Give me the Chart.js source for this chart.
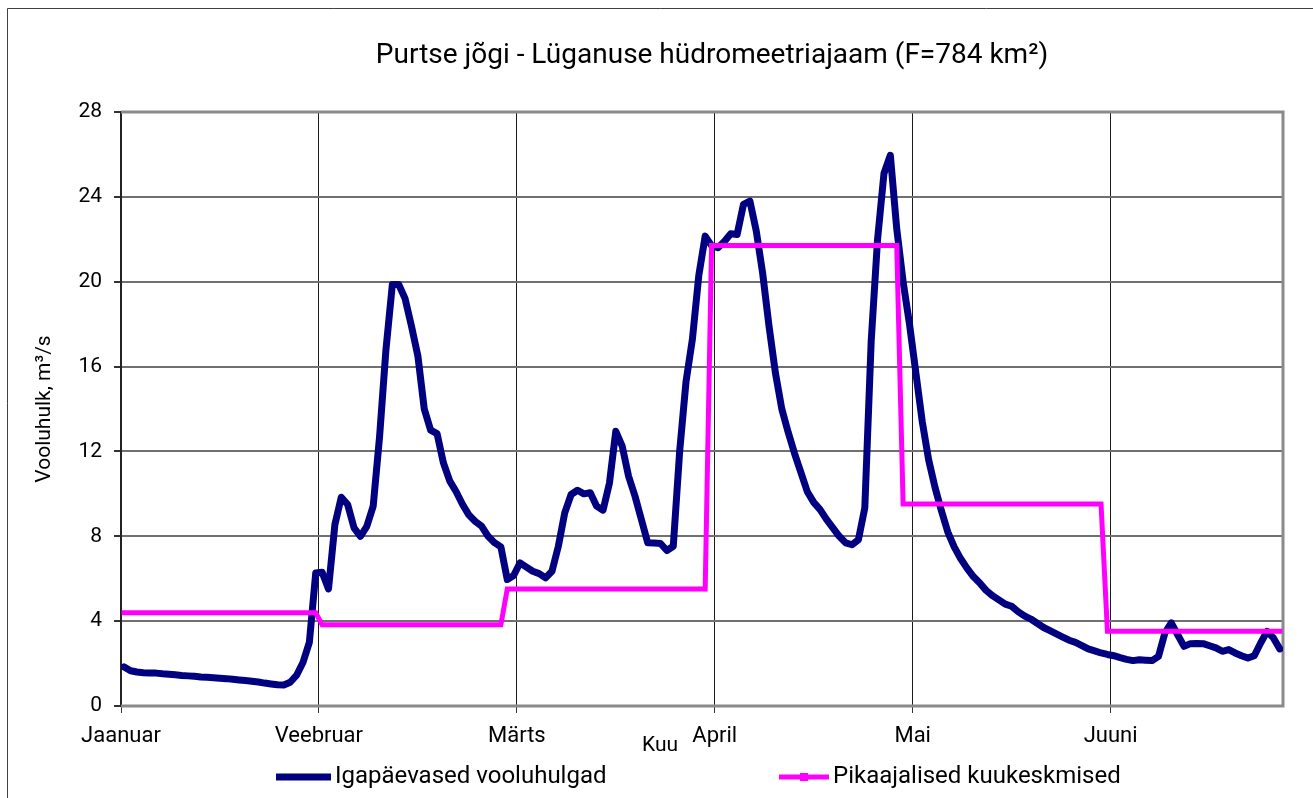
<!DOCTYPE html>
<html lang="et">
<head>
<meta charset="UTF-8">
<title>Purtse jõgi - Lüganuse hüdromeetriajaam</title>
<script src="https://cdn.jsdelivr.net/npm/chart.js"></script>
<style>
  body { margin: 0; background: #fff; }
  #wrap { position: relative; width: 1313px; height: 798px; }
</style>
</head>
<body>
<div id="wrap"><canvas id="flowChart" width="1313" height="798"></canvas></div>
<script>
// month labels, gridline every 31 days
const monthNames = ['Jaanuar', 'Veebruar', 'Märts', 'April', 'Mai', 'Juuni'];
const monthTicks = [0, 31, 62, 93, 124, 155];

// daily flow, m3/s
const flowJan = [1.84, 1.66, 1.6, 1.57, 1.56, 1.55, 1.52, 1.5, 1.47, 1.44,
  1.42, 1.4, 1.37, 1.35, 1.33, 1.31, 1.29, 1.26, 1.23, 1.2,
  1.17, 1.13, 1.08, 1.04, 1.0, 0.99, 1.12, 1.45, 2.05, 3.0, 6.27];
const flowFeb = [6.3, 5.52, 8.55, 9.84, 9.5, 8.4, 8.0, 8.47, 9.42, 12.7,
  16.8, 19.87, 19.87, 19.2, 17.9, 16.5, 14.0, 13.0, 12.84, 11.46,
  10.6, 10.1, 9.5, 9.0, 8.7, 8.47, 8.0, 7.7, 7.5];
const flowMar = [5.96, 6.15, 6.75, 6.55, 6.35, 6.24, 6.04, 6.35, 7.53, 9.1,
  9.97, 10.17, 10.0, 10.05, 9.42, 9.23, 10.5, 12.95, 12.25, 10.83,
  9.9, 8.8, 7.69, 7.68, 7.66, 7.33, 7.53, 12.0, 15.3, 17.3, 20.3, 22.15];
const flowApr = [21.7, 21.6, 21.9, 22.26, 22.23, 23.65, 23.8, 22.39, 20.4, 17.9,
  15.7, 14.0, 12.9, 11.9, 11.0, 10.1, 9.6, 9.26, 8.8, 8.4,
  8.0, 7.69, 7.6, 7.84, 9.34, 17.2, 22.0, 25.1, 25.96, 22.5];
const flowMay = [20.0, 18.0, 15.7, 13.4, 11.6, 10.3, 9.2, 8.2, 7.5, 6.95,
  6.5, 6.1, 5.8, 5.45, 5.2, 5.0, 4.8, 4.7, 4.45, 4.25,
  4.1, 3.9, 3.7, 3.55, 3.4, 3.25, 3.1, 3.0, 2.85, 2.69, 2.6, 2.5];
const flowJun = [2.43, 2.37, 2.28, 2.2, 2.14, 2.18, 2.16, 2.14, 2.34, 3.44,
  3.92, 3.36, 2.81, 2.94, 2.95, 2.94, 2.84, 2.74, 2.58, 2.66,
  2.5, 2.37, 2.26, 2.37, 2.97, 3.52, 3.21, 2.69];
const dailyFlow = [...flowJan, ...flowFeb, ...flowMar, ...flowApr, ...flowMay, ...flowJun];

// long-term monthly means and the day span each one covers
const monthMeans = [4.39, 3.83, 5.52, 21.71, 9.52, 3.52];
const meanFirstDay = [0, 31, 60, 92, 122, 154];
const meanLastDay = [30, 59, 91, 121, 153, 181];

const dailyPoints = dailyFlow.map((v, i) => ({ x: i + 0.5, y: v }));
const meanPoints = [];
monthMeans.forEach((m, k) => {
  meanPoints.push({ x: meanFirstDay[k] + 0.5, y: m });
  meanPoints.push({ x: meanLastDay[k] + 0.5, y: m });
});

const FONT = 'Roboto, "Liberation Sans", Arial, sans-serif';
Chart.defaults.font.family = FONT;
Chart.defaults.color = '#000';

const decor = {
  id: 'decor',
  beforeDraw(chart) {
    const ctx = chart.ctx;
    ctx.save();
    ctx.strokeStyle = '#404040';
    ctx.lineWidth = 1;
    ctx.beginPath();
    ctx.moveTo(7.5, chart.height);
    ctx.lineTo(7.5, 8.5);
    ctx.lineTo(chart.width, 8.5);
    ctx.stroke();
    ctx.restore();
  },
  beforeDatasetsDraw(chart) {
    const { ctx, chartArea: a } = chart;
    ctx.save();
    ctx.strokeStyle = '#8a8a8a';
    ctx.lineWidth = 3;
    ctx.beginPath();
    ctx.moveTo(a.left, a.top);
    ctx.lineTo(a.right, a.top);
    ctx.lineTo(a.right, a.bottom);
    ctx.lineTo(a.left, a.bottom);
    ctx.stroke();
    ctx.restore();
  },
  afterDraw(chart) {
    const { ctx, chartArea: a } = chart;
    ctx.save();
    ctx.fillStyle = '#000';
    ctx.textBaseline = 'middle';

    // title
    ctx.font = '28px ' + FONT;
    ctx.textAlign = 'center';
    ctx.fillText('Purtse jõgi - Lüganuse hüdromeetriajaam (F=784 km²)', 712, 56);

    // x axis title
    ctx.font = '21px ' + FONT;
    ctx.fillText('Kuu', 660, a.bottom + 40);

    // legend
    const ly = a.bottom + 71;
    ctx.textAlign = 'left';
    ctx.font = '24px ' + FONT;
    const items = [
      { ds: chart.data.datasets[1], x0: 276, x1: 331 },
      { ds: chart.data.datasets[0], x0: 779, x1: 829, marker: true }
    ];
    items.forEach(it => {
      ctx.strokeStyle = it.ds.borderColor;
      ctx.lineWidth = it.ds.borderWidth;
      ctx.lineCap = 'butt';
      ctx.beginPath();
      ctx.moveTo(it.x0, ly);
      ctx.lineTo(it.x1, ly);
      ctx.stroke();
      if (it.marker) {
        ctx.fillStyle = it.ds.borderColor;
        ctx.fillRect((it.x0 + it.x1) / 2 - 4, ly - 4, 8, 8);
        ctx.fillStyle = '#000';
      }
      ctx.fillText(it.ds.label, it.x1 + 4, ly);
    });
    ctx.restore();
  }
};

new Chart(document.getElementById('flowChart'), {
  type: 'line',
  data: {
    datasets: [
      {
        label: 'Pikaajalised kuukeskmised',
        data: meanPoints,
        borderColor: '#ff00ff',
        borderWidth: 5,
        borderCapStyle: 'square',
        pointRadius: 0,
        tension: 0
      },
      {
        label: 'Igapäevased vooluhulgad',
        data: dailyPoints,
        borderColor: '#000080',
        borderWidth: 7,
        borderCapStyle: 'round',
        borderJoinStyle: 'round',
        pointRadius: 0,
        tension: 0
      }
    ]
  },
  options: {
    responsive: false,
    animation: false,
    layout: { padding: { left: 30, right: 30, top: 112, bottom: 0 } },
    plugins: {
      legend: { display: false },
      title: { display: false },
      tooltip: { enabled: false }
    },
    scales: {
      x: {
        type: 'linear',
        min: 0,
        max: 182,
        afterBuildTicks: s => { s.ticks = monthTicks.map(v => ({ value: v })); },
        afterFit: s => { s.height = 92; },
        ticks: {
          callback: (v, i) => monthNames[i],
          font: { size: 22 },
          maxRotation: 0,
          padding: 10
        },
        grid: { color: '#1a1a1a', lineWidth: 1, tickLength: 7, tickColor: '#333' },
        border: { display: false }
      },
      y: {
        min: 0,
        max: 28,
        afterFit: s => { s.width = 91; },
        ticks: { stepSize: 4, font: { size: 21 }, padding: 12 },
        grid: { color: '#707070', lineWidth: 2, tickLength: 7, tickColor: '#333' },
        border: { display: true, color: '#222', width: 2 },
        title: {
          display: true,
          text: 'Vooluhulk, m³/s',
          font: { size: 21 },
          padding: { top: 2, bottom: 0 }
        }
      }
    }
  },
  plugins: [decor]
});
</script>
</body>
</html>
